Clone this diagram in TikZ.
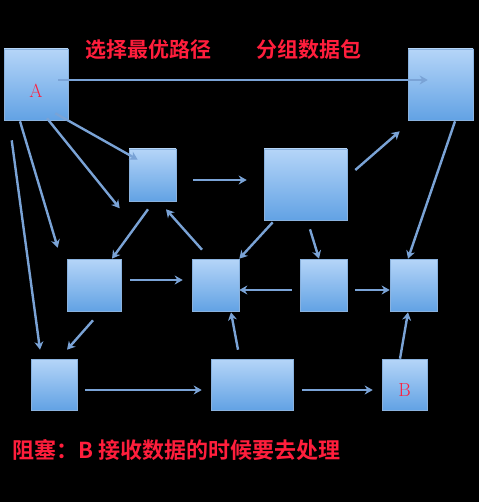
\documentclass[tikz,border=0pt]{standalone}
\usepackage{fontspec}
\newfontfamily\cjk{Noto Sans CJK SC}[BoldFont={Noto Sans CJK SC Bold}]
\usetikzlibrary{arrows.meta}
\definecolor{boxtop}{HTML}{B5D5F8}
\definecolor{boxbot}{HTML}{62A2E4}
\definecolor{boxline}{HTML}{8AB2DE}
\definecolor{arr}{HTML}{7AA3D6}
\definecolor{redtxt}{HTML}{FF1E3C}
\tikzset{
  box/.style={draw=boxline, line width=0.6pt, top color=boxtop, bottom color=boxbot,
    inner sep=0pt, minimum width=#1},
  box/.default=47pt,
  conn/.style={draw=arr, line width=2.4pt, -{Stealth[length=8pt,width=9pt]}},
  cn/.style={text=redtxt, font=\cjk\bfseries\fontsize{21}{21}\selectfont, inner sep=0pt},
  ltr/.style={text=redtxt, font=\fontsize{19}{19}\selectfont, inner sep=0pt}
}
\begin{document}
\begin{tikzpicture}[x=1pt,y=-1pt]
\fill[black] (0,0) rectangle (479,502);
\useasboundingbox (0,0) rectangle (479,502);
% boxes
\node[box=64pt, minimum height=71pt] (A) at (36,84.5) {};
\node[box=65pt, minimum height=71pt] (TR) at (440.5,84.5) {};
\node[box=47pt, minimum height=52pt] (n1) at (152.5,175) {};
\node[box=83pt, minimum height=71pt] (n2) at (305.5,184.5) {};
\node[box=54pt, minimum height=52pt] (r1) at (94,285) {};
\node[box=47pt, minimum height=52pt] (r2) at (215.5,285) {};
\node[box=47pt, minimum height=52pt] (r3) at (323.5,285) {};
\node[box=47pt, minimum height=52pt] (r4) at (413.5,285) {};
\node[box=46pt, minimum height=51pt] (b1) at (54,384.5) {};
\node[box=82pt, minimum height=51pt] (b2) at (252,384.5) {};
\node[box=45pt, minimum height=51pt] (b3) at (404.5,384.5) {};
% letters
\node[ltr] (la) at (36,91) {A};
\node[ltr] (lb) at (404.5,390) {B};
% texts
\node[cn] (t1) at (148,50) {选择最优路径};
\node[cn] (t2) at (309,50) {分组数据包};
\node[cn, anchor=west, font=\cjk\bfseries\fontsize{22}{22}\selectfont] (t3) at (12,450) {阻塞：B 接收数据的时候要去处理};
% free ends
\coordinate (fe1) at ([shift={(-9,7)}]n1.south west);
% connectors
\draw[conn] ([shift={(-10,-4.5)}]A.east) -- ([shift={(20,-4.5)}]TR.west);
\draw[conn] ([shift={(-13,-7)}]A.south east) -- ([shift={(9,11)}]n1.north west);
\draw[conn] ([shift={(11,-2)}]A.south) -- (fe1);
\draw[conn] ([shift={(-16,1)}]A.south) -- ([shift={(-9,-11)}]r1.north west);
\draw[conn] ([shift={(8,20)}]A.south west) -- ([shift={(-14,-9)}]b1.north);
\draw[conn] ([shift={(17,5)}]n1.east) -- ([shift={(-17,-4.5)}]n2.west);
\draw[conn] ([shift={(8,-14.5)}]n2.east) -- ([shift={(-8,11)}]TR.south west);
\draw[conn] ([shift={(14.5,1)}]TR.south) -- ([shift={(-5.5,0)}]r4.north);
\draw[conn] ([shift={(-4.5,8)}]n1.south) -- ([shift={(18,0)}]r1.north);
\draw[conn] ([shift={(-13.5,-9)}]r2.north) -- ([shift={(13.5,8)}]n1.south);
\draw[conn] ([shift={(9,2)}]n2.south west) -- (r2.north east);
\draw[conn] ([shift={(4.5,9)}]n2.south) -- ([shift={(-4.5,0)}]r3.north);
\draw[conn] ([shift={(9,-5)}]r1.east) -- ([shift={(-9,-5)}]r2.west);
\draw[conn] ([shift={(-8,5)}]r3.west) -- ([shift={(0,5)}]r2.east);
\draw[conn] ([shift={(8,5)}]r3.east) -- ([shift={(0,5)}]r4.west);
\draw[conn] ([shift={(-1,9)}]r1.south) -- ([shift={(13,-9)}]b1.north);
\draw[conn] ([shift={(8,5.5)}]b1.east) -- ([shift={(-9,5.5)}]b2.west);
\draw[conn] ([shift={(9,5.5)}]b2.east) -- ([shift={(-9,5.5)}]b3.west);
\draw[conn] ([shift={(-14,-9)}]b2.north) -- ([shift={(15.5,1)}]r2.south);
\draw[conn] ([shift={(-4.5,0)}]b3.north) -- ([shift={(-5.5,1)}]r4.south);
\end{tikzpicture}
\end{document}
